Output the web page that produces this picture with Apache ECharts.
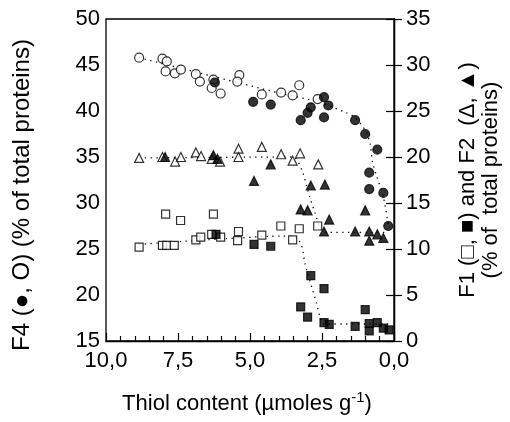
<!DOCTYPE html>
<html><head><meta charset="utf-8">
<script src="https://cdn.jsdelivr.net/npm/echarts@6/dist/echarts.min.js"></script>
<style>html,body{margin:0;padding:0;background:#fff}#c{width:510px;height:422px}</style>
</head><body><div id="c"></div>
<script>
// x = thiol content (µmoles g-1); left axis F4 (%), right axis F1/F2 (%)
const f4Open = [[8.85,45.8],[8.04,45.7],[7.89,45.4],[7.93,44.3],[7.61,44.1],[7.40,44.5],[6.88,44.0],[6.74,43.2],[6.27,43.4],[6.33,42.5],[6.02,41.9],[5.37,43.9],[5.44,43.2],[4.59,41.8],[3.92,42.0],[3.52,41.7],[3.29,42.8],[2.65,41.3]];
const f4Filled = [[6.22,43.1],[4.89,41.0],[4.28,40.7],[3.24,39.0],[3.0,39.8],[2.89,40.4],[2.43,41.5],[2.28,40.6],[2.43,39.3],[1.35,39.0],[1.0,37.5],[0.58,35.8],[0.86,33.3],[0.86,31.5],[0.37,31.1],[0.2,27.5]];
const f2Open = [[8.85,19.9],[8.04,20.0],[7.6,19.5],[7.4,20.0],[6.88,20.5],[6.70,20.1],[6.33,19.8],[6.04,19.5],[5.40,20.9],[5.40,20.0],[4.59,21.1],[3.92,20.3],[3.52,19.6],[3.26,20.4],[2.63,19.2]];
const f2Filled = [[7.95,20.0],[6.27,20.2],[6.13,19.8],[4.86,17.4],[4.28,19.2],[3.24,14.3],[3.0,14.2],[2.89,16.9],[2.40,17.0],[2.25,13.2],[2.43,11.9],[1.35,11.9],[1.0,14.2],[0.86,11.9],[0.86,10.9],[0.58,11.6],[0.37,11.2]];
const f1Open = [[8.85,10.2],[8.04,10.4],[7.89,10.4],[7.63,10.4],[7.93,13.8],[7.41,13.1],[6.88,11.0],[6.71,11.3],[6.27,13.8],[6.33,11.6],[6.02,11.3],[5.40,11.9],[5.43,10.9],[4.59,11.5],[3.93,12.5],[3.52,11.0],[3.29,12.2],[2.65,12.5]];
const f1Filled = [[6.18,11.6],[4.86,10.5],[4.28,10.3],[2.89,7.1],[2.43,5.7],[3.24,3.7],[3.0,2.6],[2.43,2.0],[2.25,1.8],[1.35,1.6],[1.0,3.4],[0.86,1.9],[0.86,1.1],[0.58,2.0],[0.37,1.4],[0.17,1.2]];
// dotted fitted curves
const f4Fit = [[8.85,45.8],[3.92,41.9],[2.65,41.0],[1.65,39.8],[1.35,39.3],[1.0,37.9],[0.83,36.5],[0.75,34.5],[0.6,32.9],[0.37,30.7],[0.2,27.6]];
const f2Fit = [[8.85,19.9],[3.5,20.0],[3.2,18.6],[3.03,16.8],[2.89,15.3],[2.74,13.9],[2.57,12.3],[2.4,11.8],[0.2,11.8]];
const f1Fit = [[8.85,10.5],[6.5,11.0],[3.9,11.4],[3.4,11.3],[3.2,10.25],[3.09,8.4],[2.86,5.9],[2.69,4.1],[2.57,2.6],[2.47,1.85],[0.2,1.85]];
const xTicks = {min: 0, max: 10, step: 2.5};
const leftTicks = {min: 15, max: 50, step: 5};
const rightTicks = {min: 0, max: 35, step: 5};
const xTitle = 'Thiol content (µmoles g';
const leftTitle = 'F4 (●, O) (% of total proteins)';
const rightTitle1 = 'F1 (□, ■) and F2  (Δ, ▲)';
const rightTitle2 = '(% of  total proteins)';

const FONT = '"Liberation Sans", Arial, Helvetica, sans-serif';
const chart = echarts.init(document.getElementById('c'), null, {renderer: 'canvas'});
const lab = {color: '#000', fontFamily: FONT, fontSize: 22};
const axisLine = {show: true, lineStyle: {color: '#000', width: 1.3}};
function scatter(name, data, yIdx, symbol, size, filled) {
  return {name, type: 'scatter', data, yAxisIndex: yIdx, symbol, symbolSize: size, z: 5,
    itemStyle: {color: filled ? '#000' : '#fff', borderColor: '#000', borderWidth: 1.2}};
}
function fit(data, yIdx) {
  return {type: 'line', data, yAxisIndex: yIdx, symbol: 'none', smooth: 0.25, z: 3, silent: true,
    lineStyle: {color: '#000', width: 1.3, type: [1.3, 4.5]}};
}
chart.setOption({
  animation: false,
  grid: {left: 106, right: 116, top: 19, bottom: 81, show: true, borderColor: '#000', borderWidth: 1.3, backgroundColor: 'transparent'},
  xAxis: {type: 'value', inverse: true, min: xTicks.min, max: xTicks.max, interval: xTicks.step,
    axisLine, splitLine: {show: false},
    axisTick: {show: true, inside: true, length: 8, lineStyle: {color: '#000', width: 1.2}},
    minorTick: {show: true, splitNumber: 5, length: 5, lineStyle: {color: '#000', width: 1.2}},
    axisLabel: {...lab, margin: 9, formatter: v => v.toFixed(1).replace('.', ',')}},
  yAxis: [
    {type: 'value', min: leftTicks.min, max: leftTicks.max, interval: leftTicks.step, position: 'left',
      axisLine, splitLine: {show: false},
      axisTick: {show: true, inside: true, length: 8, lineStyle: {color: '#000', width: 1.2}},
      axisLabel: {...lab, margin: 6}},
    {type: 'value', min: rightTicks.min, max: rightTicks.max, interval: rightTicks.step, position: 'right',
      axisLine, splitLine: {show: false},
      axisTick: {show: true, inside: true, length: 8, lineStyle: {color: '#000', width: 1.2}},
      axisLabel: {...lab, margin: 12}}
  ],
  graphic: [
    {type: 'text', x: 247, y: 404, z: 10, style: {text: '{a|' + xTitle + '}{b|-1}{a|)}', align: 'center', verticalAlign: 'middle',
      rich: {a: {fontSize: 22, fontFamily: FONT, fill: '#000'}, b: {fontSize: 15, fontFamily: FONT, fill: '#000', padding: [0, 0, 13, 0]}}}},
    {type: 'text', x: 22, y: 195, rotation: Math.PI / 2, z: 10, style: {text: leftTitle, fontSize: 24, fontFamily: FONT, fill: '#000', align: 'center', verticalAlign: 'middle'}},
    {type: 'text', x: 468, y: 180, rotation: Math.PI / 2, z: 10, style: {text: rightTitle1, fontSize: 22, fontFamily: FONT, fill: '#000', align: 'center', verticalAlign: 'middle'}},
    {type: 'text', x: 491, y: 180, rotation: Math.PI / 2, z: 10, style: {text: rightTitle2, fontSize: 22, fontFamily: FONT, fill: '#000', align: 'center', verticalAlign: 'middle'}}
  ],
  series: [
    fit(f4Fit, 0), fit(f2Fit, 1), fit(f1Fit, 1),
    scatter('F4 open', f4Open, 0, 'circle', 9, false),
    scatter('F4 filled', f4Filled, 0, 'circle', 9, true),
    scatter('F2 open', f2Open, 1, 'triangle', 9, false),
    scatter('F2 filled', f2Filled, 1, 'triangle', 9, true),
    scatter('F1 open', f1Open, 1, 'rect', 8, false),
    scatter('F1 filled', f1Filled, 1, 'rect', 8, true)
  ]
});
</script></body></html>
